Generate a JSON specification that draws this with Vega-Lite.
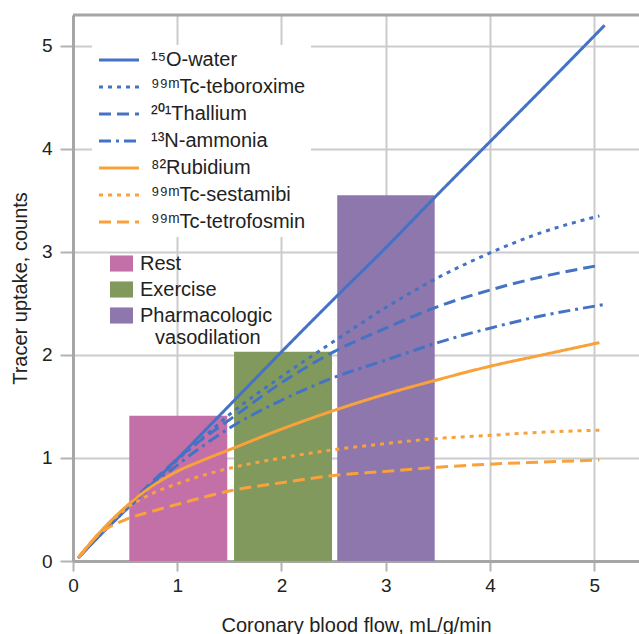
{
  "$schema": "https://vega.github.io/schema/vega-lite/v6.json",
  "width": 566,
  "height": 546,
  "autosize": {"type": "none"},
  "padding": {"left": 73, "top": 15, "right": 0, "bottom": 73},
  "background": "white",
  "config": {
    "view": {"stroke": null},
    "font": "Liberation Sans",
    "axis": {
      "gridColor": "#cccccc",
      "gridWidth": 2,
      "domainColor": "#a6a6a6",
      "domainWidth": 3,
      "tickColor": "#b3b3b3",
      "tickWidth": 2,
      "labelColor": "#222222",
      "titleColor": "#222222",
      "labelFont": "Liberation Sans",
      "titleFont": "Liberation Sans",
      "titleFontWeight": "normal"
    }
  },
  "datasets": {
    "bars": [
      {"state": "Rest", "x0": 0.54, "x1": 1.48, "uptake": 1.41},
      {"state": "Exercise", "x0": 1.545, "x1": 2.485, "uptake": 2.03},
      {"state": "Pharmacologic vasodilation", "x0": 2.535, "x1": 3.47, "uptake": 3.55}
    ],
    "curves": [
      {"tracer": "¹⁵O-water", "flow": 0.05, "uptake": 0.03},
      {"tracer": "¹⁵O-water", "flow": 0.25, "uptake": 0.24},
      {"tracer": "¹⁵O-water", "flow": 0.5, "uptake": 0.49},
      {"tracer": "¹⁵O-water", "flow": 0.75, "uptake": 0.74},
      {"tracer": "¹⁵O-water", "flow": 1.0, "uptake": 0.99},
      {"tracer": "¹⁵O-water", "flow": 1.25, "uptake": 1.25},
      {"tracer": "¹⁵O-water", "flow": 1.5, "uptake": 1.51},
      {"tracer": "¹⁵O-water", "flow": 1.75, "uptake": 1.77},
      {"tracer": "¹⁵O-water", "flow": 2.0, "uptake": 2.03},
      {"tracer": "¹⁵O-water", "flow": 2.5, "uptake": 2.54},
      {"tracer": "¹⁵O-water", "flow": 3.0, "uptake": 3.04},
      {"tracer": "¹⁵O-water", "flow": 3.5, "uptake": 3.56},
      {"tracer": "¹⁵O-water", "flow": 4.0, "uptake": 4.07},
      {"tracer": "¹⁵O-water", "flow": 4.5, "uptake": 4.58},
      {"tracer": "¹⁵O-water", "flow": 5.1, "uptake": 5.2},

      {"tracer": "⁹⁹ᵐTc-teboroxime", "flow": 0.05, "uptake": 0.03},
      {"tracer": "⁹⁹ᵐTc-teboroxime", "flow": 0.25, "uptake": 0.25},
      {"tracer": "⁹⁹ᵐTc-teboroxime", "flow": 0.5, "uptake": 0.5},
      {"tracer": "⁹⁹ᵐTc-teboroxime", "flow": 0.75, "uptake": 0.74},
      {"tracer": "⁹⁹ᵐTc-teboroxime", "flow": 1.0, "uptake": 0.98},
      {"tracer": "⁹⁹ᵐTc-teboroxime", "flow": 1.25, "uptake": 1.2},
      {"tracer": "⁹⁹ᵐTc-teboroxime", "flow": 1.5, "uptake": 1.42},
      {"tracer": "⁹⁹ᵐTc-teboroxime", "flow": 2.0, "uptake": 1.79},
      {"tracer": "⁹⁹ᵐTc-teboroxime", "flow": 2.5, "uptake": 2.13},
      {"tracer": "⁹⁹ᵐTc-teboroxime", "flow": 3.0, "uptake": 2.46},
      {"tracer": "⁹⁹ᵐTc-teboroxime", "flow": 3.5, "uptake": 2.75},
      {"tracer": "⁹⁹ᵐTc-teboroxime", "flow": 4.0, "uptake": 2.99},
      {"tracer": "⁹⁹ᵐTc-teboroxime", "flow": 4.5, "uptake": 3.19},
      {"tracer": "⁹⁹ᵐTc-teboroxime", "flow": 5.05, "uptake": 3.35},

      {"tracer": "²⁰¹Thallium", "flow": 0.05, "uptake": 0.03},
      {"tracer": "²⁰¹Thallium", "flow": 0.25, "uptake": 0.26},
      {"tracer": "²⁰¹Thallium", "flow": 0.5, "uptake": 0.51},
      {"tracer": "²⁰¹Thallium", "flow": 0.75, "uptake": 0.76},
      {"tracer": "²⁰¹Thallium", "flow": 1.0, "uptake": 0.99},
      {"tracer": "²⁰¹Thallium", "flow": 1.25, "uptake": 1.19},
      {"tracer": "²⁰¹Thallium", "flow": 1.5, "uptake": 1.37},
      {"tracer": "²⁰¹Thallium", "flow": 2.0, "uptake": 1.73},
      {"tracer": "²⁰¹Thallium", "flow": 2.5, "uptake": 2.03},
      {"tracer": "²⁰¹Thallium", "flow": 3.0, "uptake": 2.26},
      {"tracer": "²⁰¹Thallium", "flow": 3.5, "uptake": 2.47},
      {"tracer": "²⁰¹Thallium", "flow": 4.0, "uptake": 2.63},
      {"tracer": "²⁰¹Thallium", "flow": 4.5, "uptake": 2.76},
      {"tracer": "²⁰¹Thallium", "flow": 5.05, "uptake": 2.87},

      {"tracer": "¹³N-ammonia", "flow": 0.05, "uptake": 0.03},
      {"tracer": "¹³N-ammonia", "flow": 0.25, "uptake": 0.25},
      {"tracer": "¹³N-ammonia", "flow": 0.5, "uptake": 0.49},
      {"tracer": "¹³N-ammonia", "flow": 0.75, "uptake": 0.72},
      {"tracer": "¹³N-ammonia", "flow": 1.0, "uptake": 0.93},
      {"tracer": "¹³N-ammonia", "flow": 1.25, "uptake": 1.12},
      {"tracer": "¹³N-ammonia", "flow": 1.5, "uptake": 1.29},
      {"tracer": "¹³N-ammonia", "flow": 2.0, "uptake": 1.56},
      {"tracer": "¹³N-ammonia", "flow": 2.5, "uptake": 1.78},
      {"tracer": "¹³N-ammonia", "flow": 3.0, "uptake": 1.95},
      {"tracer": "¹³N-ammonia", "flow": 3.5, "uptake": 2.12},
      {"tracer": "¹³N-ammonia", "flow": 4.0, "uptake": 2.26},
      {"tracer": "¹³N-ammonia", "flow": 4.5, "uptake": 2.38},
      {"tracer": "¹³N-ammonia", "flow": 5.1, "uptake": 2.49},

      {"tracer": "⁸²Rubidium", "flow": 0.05, "uptake": 0.03},
      {"tracer": "⁸²Rubidium", "flow": 0.25, "uptake": 0.27},
      {"tracer": "⁸²Rubidium", "flow": 0.5, "uptake": 0.52},
      {"tracer": "⁸²Rubidium", "flow": 0.75, "uptake": 0.72},
      {"tracer": "⁸²Rubidium", "flow": 1.0, "uptake": 0.87},
      {"tracer": "⁸²Rubidium", "flow": 1.25, "uptake": 0.98},
      {"tracer": "⁸²Rubidium", "flow": 1.5, "uptake": 1.08},
      {"tracer": "⁸²Rubidium", "flow": 2.0, "uptake": 1.28},
      {"tracer": "⁸²Rubidium", "flow": 2.5, "uptake": 1.46},
      {"tracer": "⁸²Rubidium", "flow": 3.0, "uptake": 1.62},
      {"tracer": "⁸²Rubidium", "flow": 3.5, "uptake": 1.76},
      {"tracer": "⁸²Rubidium", "flow": 4.0, "uptake": 1.89},
      {"tracer": "⁸²Rubidium", "flow": 4.5, "uptake": 2.0},
      {"tracer": "⁸²Rubidium", "flow": 5.05, "uptake": 2.12},

      {"tracer": "⁹⁹ᵐTc-sestamibi", "flow": 0.05, "uptake": 0.03},
      {"tracer": "⁹⁹ᵐTc-sestamibi", "flow": 0.25, "uptake": 0.27},
      {"tracer": "⁹⁹ᵐTc-sestamibi", "flow": 0.5, "uptake": 0.5},
      {"tracer": "⁹⁹ᵐTc-sestamibi", "flow": 0.75, "uptake": 0.65},
      {"tracer": "⁹⁹ᵐTc-sestamibi", "flow": 1.0, "uptake": 0.75},
      {"tracer": "⁹⁹ᵐTc-sestamibi", "flow": 1.5, "uptake": 0.9},
      {"tracer": "⁹⁹ᵐTc-sestamibi", "flow": 2.0, "uptake": 1.0},
      {"tracer": "⁹⁹ᵐTc-sestamibi", "flow": 2.5, "uptake": 1.08},
      {"tracer": "⁹⁹ᵐTc-sestamibi", "flow": 3.0, "uptake": 1.14},
      {"tracer": "⁹⁹ᵐTc-sestamibi", "flow": 3.5, "uptake": 1.19},
      {"tracer": "⁹⁹ᵐTc-sestamibi", "flow": 4.0, "uptake": 1.22},
      {"tracer": "⁹⁹ᵐTc-sestamibi", "flow": 4.5, "uptake": 1.25},
      {"tracer": "⁹⁹ᵐTc-sestamibi", "flow": 5.05, "uptake": 1.27},

      {"tracer": "⁹⁹ᵐTc-tetrofosmin", "flow": 0.05, "uptake": 0.03},
      {"tracer": "⁹⁹ᵐTc-tetrofosmin", "flow": 0.25, "uptake": 0.26},
      {"tracer": "⁹⁹ᵐTc-tetrofosmin", "flow": 0.5, "uptake": 0.4},
      {"tracer": "⁹⁹ᵐTc-tetrofosmin", "flow": 0.75, "uptake": 0.48},
      {"tracer": "⁹⁹ᵐTc-tetrofosmin", "flow": 1.0, "uptake": 0.55},
      {"tracer": "⁹⁹ᵐTc-tetrofosmin", "flow": 1.5, "uptake": 0.68},
      {"tracer": "⁹⁹ᵐTc-tetrofosmin", "flow": 2.0, "uptake": 0.76},
      {"tracer": "⁹⁹ᵐTc-tetrofosmin", "flow": 2.5, "uptake": 0.83},
      {"tracer": "⁹⁹ᵐTc-tetrofosmin", "flow": 3.0, "uptake": 0.87},
      {"tracer": "⁹⁹ᵐTc-tetrofosmin", "flow": 3.5, "uptake": 0.91},
      {"tracer": "⁹⁹ᵐTc-tetrofosmin", "flow": 4.0, "uptake": 0.94},
      {"tracer": "⁹⁹ᵐTc-tetrofosmin", "flow": 4.5, "uptake": 0.96},
      {"tracer": "⁹⁹ᵐTc-tetrofosmin", "flow": 5.05, "uptake": 0.98}
    ]
  },
  "layer": [
    {
      "data": {"name": "bars"},
      "mark": {"type": "bar", "opacity": 1},
      "encoding": {
        "x": {"field": "x0", "type": "quantitative", "title": "Coronary blood flow, mL/g/min",
              "scale": {"domain": [0, 5.43], "nice": false, "zero": false}},
        "x2": {"field": "x1"},
        "y": {"field": "uptake", "type": "quantitative", "title": "Tracer uptake, counts",
              "scale": {"domain": [0, 5.3], "nice": false, "zero": false}},
        "y2": {"datum": 0},
        "color": {
          "field": "state", "type": "nominal",
          "scale": {"domain": ["Rest", "Exercise", "Pharmacologic vasodilation"],
                    "range": ["#c270a7", "#82995d", "#8d77ad"]},
          "legend": {
            "orient": "none", "legendX": 37, "legendY": 237, "title": null,
            "symbolType": "M-1,-0.7H1V0.7H-1Z", "symbolSize": 529, "symbolStrokeWidth": 0,
            "symbolOpacity": 1,
            "labelFontSize": 20, "labelOffset": 7, "rowPadding": 4, "padding": 0,
            "labelLimit": 300, "labelColor": "#222222", "labelFont": "Liberation Sans",
            "labelExpr": "datum.label == 'Pharmacologic vasodilation' ? ['Pharmacologic', '\u200d\u00a0\u00a0\u2009vasodilation'] : datum.label"
          }
        }
      }
    },
    {
      "data": {"name": "curves"},
      "mark": {"type": "line", "strokeWidth": 3, "interpolate": "monotone"},
      "encoding": {
        "x": {"field": "flow", "type": "quantitative", "title": "Coronary blood flow, mL/g/min",
              "scale": {"domain": [0, 5.43], "nice": false, "zero": false},
              "axis": {"values": [0, 1, 2, 3, 4, 5], "format": "d", "grid": true, "tickSize": 10,
                       "labelFontSize": 19, "labelPadding": 5, "titleFontSize": 20,
                       "titlePadding": 20, "labelFlush": false}},
        "y": {"field": "uptake", "type": "quantitative", "title": "Tracer uptake, counts",
              "scale": {"domain": [0, 5.3], "nice": false, "zero": false},
              "axis": {"values": [0, 1, 2, 3, 4, 5], "format": "d", "grid": true, "tickSize": 13,
                       "labelFontSize": 19, "labelPadding": 8, "titleFontSize": 20,
                       "titlePadding": 11, "labelFlush": false}},
        "stroke": {
          "field": "tracer", "type": "nominal",
          "scale": {"domain": ["¹⁵O-water", "⁹⁹ᵐTc-teboroxime", "²⁰¹Thallium", "¹³N-ammonia", "⁸²Rubidium", "⁹⁹ᵐTc-sestamibi", "⁹⁹ᵐTc-tetrofosmin"],
                    "range": ["#4472c4", "#4472c4", "#4472c4", "#4472c4", "#f9a13a", "#f9a13a", "#f9a13a"]},
          "legend": {
            "orient": "none", "legendX": 19, "legendY": 30, "title": null,
            "symbolType": "M-1,0H4", "symbolSize": 256, "symbolStrokeWidth": 3,
            "labelFontSize": 20, "labelOffset": 34, "rowPadding": 7, "padding": 5,
            "fillColor": "white", "labelLimit": 300, "labelColor": "#222222", "labelFont": "Liberation Sans"
          }
        },
        "strokeDash": {
          "field": "tracer", "type": "nominal",
          "scale": {"domain": ["¹⁵O-water", "⁹⁹ᵐTc-teboroxime", "²⁰¹Thallium", "¹³N-ammonia", "⁸²Rubidium", "⁹⁹ᵐTc-sestamibi", "⁹⁹ᵐTc-tetrofosmin"],
                    "range": [[1, 0], [4, 5], [12, 6], [12, 5, 3, 5], [1, 0], [4, 5], [12, 6]]},
          "legend": {
            "orient": "none", "legendX": 19, "legendY": 30, "title": null,
            "symbolType": "M-1,0H4", "symbolSize": 256, "symbolStrokeWidth": 3,
            "labelFontSize": 20, "labelOffset": 34, "rowPadding": 7, "padding": 5,
            "fillColor": "white", "labelLimit": 300, "labelColor": "#222222", "labelFont": "Liberation Sans"
          }
        }
      }
    },
    {
      "data": {"values": [{}]},
      "mark": {"type": "rule", "color": "#a6a6a6", "strokeWidth": 3},
      "encoding": {
        "y": {"datum": 5.3, "type": "quantitative", "title": "Tracer uptake, counts"}
      }
    }
  ]
}
